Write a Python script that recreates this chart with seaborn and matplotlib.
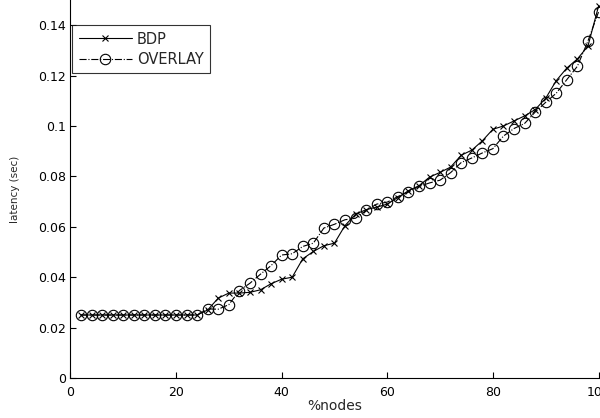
import matplotlib
matplotlib.use("Agg")
import matplotlib.pyplot as plt
import seaborn as sns
import numpy as np
import pandas as pd
from matplotlib.ticker import FuncFormatter

nodes = list(range(2, 101, 2))
bdp = [0.025] * 12 + [
    0.027, 0.0317, 0.0337, 0.0337, 0.034, 0.035, 0.0374, 0.0392, 0.040,
    0.0473, 0.0502, 0.0525, 0.0535, 0.0605, 0.065, 0.0668, 0.0678, 0.069,
    0.0716, 0.0743, 0.0763, 0.0797, 0.0816, 0.0837, 0.0884, 0.0904, 0.0941,
    0.0987, 0.100, 0.102, 0.104, 0.1065, 0.111, 0.118, 0.123, 0.1266,
    0.1317, 0.1475]
overlay = [0.025] * 12 + [
    0.0274, 0.0273, 0.0291, 0.0347, 0.0376, 0.0412, 0.0446, 0.0488, 0.0493,
    0.0522, 0.0535, 0.0595, 0.061, 0.0628, 0.0634, 0.0665, 0.069, 0.0698,
    0.072, 0.0738, 0.076, 0.0774, 0.0785, 0.0815, 0.0855, 0.0873, 0.0893,
    0.0910, 0.096, 0.099, 0.101, 0.1055, 0.1094, 0.113, 0.1184, 0.1237,
    0.1337, 0.1452]
series_names = ["BDP", "OVERLAY"]
x_ticks = [0, 20, 40, 60, 80, 100]
y_ticks = [0, 0.02, 0.04, 0.06, 0.08, 0.1, 0.12, 0.14]

sns.set_theme(style="white")
plt.rcParams['font.family'] = ['DejaVu Sans']
plt.rcParams['font.size'] = 9

df_bdp = pd.DataFrame({"nodes": nodes, "latency": bdp})
df_ov = pd.DataFrame({"nodes": nodes, "latency": overlay})

fig = plt.figure(figsize=(6, 4.18), dpi=100)
ax = fig.add_axes([0.1173, 0.0957, 0.8802, 0.9043])

sns.lineplot(data=df_bdp, x="nodes", y="latency", ax=ax, color="black",
             linewidth=0.8, linestyle="-", marker="x", markersize=5,
             markeredgewidth=0.8, markeredgecolor="black",
             label=series_names[0])
sns.lineplot(data=df_ov, x="nodes", y="latency", ax=ax, color="black",
             linewidth=0.8, linestyle="-.", marker="o", markersize=7.5,
             markerfacecolor="none", markeredgecolor="black",
             markeredgewidth=0.8, label=series_names[1])

ax.set_xlim(0, 100)
ax.set_ylim(0, 0.15)
ax.set_xticks(x_ticks)
ax.set_yticks(y_ticks)
ax.yaxis.set_major_formatter(FuncFormatter(lambda v, p: "%g" % round(v, 2)))
ax.tick_params(direction="in", length=4.5, width=0.8, colors="black",
               labelsize=9, pad=3, left=True, bottom=True)
ax.tick_params(axis="x", pad=5.5)
for s in ["top", "right"]:
    ax.spines[s].set_visible(False)
for s in ["left", "bottom"]:
    ax.spines[s].set_color("black")
    ax.spines[s].set_linewidth(0.8)

ax.set_xlabel("%nodes", fontsize=10, labelpad=0.5)
ax.set_ylabel("latency (sec)", fontsize=7.5, labelpad=13)

leg = ax.legend(loc="upper left", bbox_to_anchor=(0.004, 0.934), frameon=True,
                fancybox=False, edgecolor="black", fontsize=10.5,
                handlelength=3.6, borderaxespad=0.0, labelspacing=0.35,
                handletextpad=0.35, borderpad=0.45)
leg.get_frame().set_linewidth(0.8)

fig.savefig("out.png", dpi=100)
